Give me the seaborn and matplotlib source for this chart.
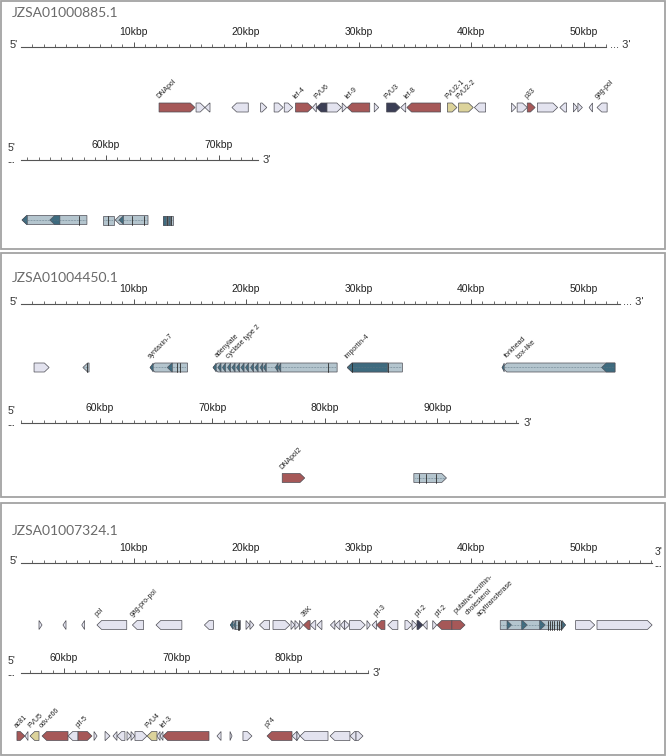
import numpy as np
import seaborn as sns
import matplotlib.pyplot as plt
from matplotlib.patches import Polygon, Rectangle

sns.set_theme(style="white")
plt.rcParams["font.family"] = ["Liberation Sans", "DejaVu Sans"]

W, H = 667, 756
S = 11.25      # pixels per kbp
GH = 9         # gene height (px)
HEAD = 0.42    # arrow head length (kbp)

# ---------------- data ----------------
titles = ["JZSA01000885.1", "JZSA01004450.1", "JZSA01007324.1"]

# ruler rows (kbp start, kbp end) for each contig
rows_885 = [(0, 52.0), (52.44, 73.5)]
rows_4450 = [(0, 53.2), (52.98, 97.2)]
rows_7324 = [(0, 56.1), (56.18, 87.0)]

# simple genes: (start kbp, end kbp, strand, colour, label)
genes_885 = [
    (12.27, 15.47, 1, "red", "DNApol"),
    (15.56, 16.35, 1, "light", ""),
    (16.35, 16.8, -1, "light", ""),
    (18.75, 20.2, -1, "light", ""),
    (21.3, 21.85, 1, "light", ""),
    (22.5, 23.3, 1, "light", ""),
    (23.4, 24.15, 1, "light", ""),
    (24.4, 25.9, 1, "red", "lef-4"),
    (25.9, 26.25, -1, "light", ""),
    (26.25, 27.2, -1, "navy", "FVU6"),
    (27.2, 28.5, 1, "light", ""),
    (28.55, 28.95, 1, "light", ""),
    (29.0, 31.0, -1, "red", "lef-9"),
    (31.4, 31.8, 1, "light", ""),
    (32.5, 33.7, 1, "navy", "FVU3"),
    (33.75, 34.2, -1, "light", ""),
    (34.3, 37.3, -1, "red", "lef-8"),
    (37.9, 38.75, 1, "khaki", "FVU2-1"),
    (38.9, 40.2, 1, "khaki", "FVU2-2"),
    (40.3, 41.3, -1, "light", ""),
    (43.6, 44.0, 1, "light", ""),
    (44.1, 45.0, 1, "light", ""),
    (45.0, 45.7, 1, "red", "p33"),
    (45.9, 47.7, 1, "light", ""),
    (47.9, 48.5, -1, "light", ""),
    (49.1, 49.45, 1, "light", ""),
    (49.5, 49.9, 1, "light", ""),
    (50.5, 50.8, -1, "light", ""),
    (51.2, 52.1, -1, "light", "gag-pol"),
]

# split genes (exon/intron): (start, end, strand, label, dark exons, exon borders)
split_885 = [
    (52.53, 58.3, -1, "", [(52.53, 53.0), (55.0, 55.9)], [57.6]),
    (59.73, 60.7, 0, "", [], [60.2]),
    (60.8, 63.73, -1, "", [(61.15, 61.55)], [62.3, 63.4]),
    (65.06, 65.95, 0, "", [(65.06, 65.3), (65.5, 65.7)], [65.4, 65.8]),
]

genes_4450 = [
    (1.16, 2.5, 1, "light", ""),
    (76.2, 78.2, 1, "red", "DNApol2"),
]

split_4450 = [
    (5.5, 6.05, -1, "", [], [5.85]),
    (11.47, 14.8, -1, "syntaxin-7", [(11.47, 11.75), (13.0, 13.45)], [13.85, 14.1]),
    (17.07, 28.1, -1, "adenylate\ncyclase type 2",
     [(17.07, 17.35), (17.5, 17.78), (17.9, 18.18), (18.35, 18.63), (18.75, 19.03),
      (19.15, 19.43), (19.55, 19.83), (19.95, 20.23), (20.4, 20.68), (20.8, 21.08),
      (21.25, 21.5), (21.55, 21.8), (22.6, 22.85), (22.85, 23.1)], [27.3]),
    (29.0, 33.9, -1, "importin-4", [(29.0, 32.6)], [29.4, 32.6]),
    (42.76, 52.8, -1, "forkhead\nbox-like", [(42.76, 42.95), (51.6, 52.8)], []),
    (87.9, 90.8, 1, "", [], [88.4, 89.0, 89.9]),
]

genes_7324 = [
    (1.6, 1.87, 1, "light", ""),
    (3.73, 4.0, -1, "light", ""),
    (5.4, 5.65, -1, "light", ""),
    (6.75, 9.4, -1, "light", "pol"),
    (9.9, 10.9, -1, "light", "gag-pro-pol"),
    (12.0, 14.3, -1, "light", ""),
    (16.3, 17.1, -1, "light", ""),
    (20.0, 20.35, 1, "light", ""),
    (20.35, 20.7, 1, "light", ""),
    (21.2, 22.1, -1, "light", ""),
    (22.4, 23.9, 1, "light", ""),
    (24.0, 24.35, 1, "light", ""),
    (24.35, 24.75, 1, "light", ""),
    (24.75, 25.1, 1, "light", ""),
    (25.1, 25.7, -1, "red", "38K"),
    (25.7, 26.2, -1, "light", ""),
    (26.3, 26.75, -1, "light", ""),
    (27.5, 27.9, -1, "light", ""),
    (27.9, 28.35, -1, "light", ""),
    (28.4, 28.75, -1, "light", ""),
    (28.75, 29.2, 1, "light", ""),
    (29.2, 30.6, 1, "light", ""),
    (30.75, 31.05, 1, "light", ""),
    (31.2, 31.6, -1, "light", ""),
    (31.6, 32.35, -1, "red", "pif-3"),
    (32.6, 33.5, -1, "light", ""),
    (34.13, 34.76, 1, "light", ""),
    (34.76, 35.2, 1, "light", ""),
    (35.2, 35.73, 1, "navy", "pif-2"),
    (35.73, 36.1, -1, "light", ""),
    (36.6, 36.95, 1, "light", ""),
    (36.98, 38.3, -1, "red", "pif-2"),
    (38.3, 39.47, 1, "red", "putative lecithin-\ncholesterol\nacyltransferase"),
    (49.3, 51.0, 1, "light", ""),
    (51.2, 56.1, 1, "light", ""),
    (55.82, 56.53, 1, "red", "ac81"),
    (56.53, 56.8, -1, "light", ""),
    (56.98, 57.78, -1, "khaki", "FVU5"),
    (58.05, 60.36, -1, "red", "odv-e66"),
    (60.36, 61.25, -1, "light", ""),
    (61.25, 62.49, 1, "red", "pif-5"),
    (62.67, 62.94, 1, "light", ""),
    (63.65, 64.09, 1, "light", ""),
    (64.36, 64.71, -1, "light", ""),
    (64.71, 65.42, -1, "light", ""),
    (65.6, 65.96, 1, "light", ""),
    (65.96, 66.31, 1, "light", ""),
    (66.31, 67.38, 1, "light", ""),
    (67.38, 68.27, -1, "khaki", "FVU4"),
    (68.27, 68.54, -1, "light", ""),
    (68.54, 68.8, -1, "light", ""),
    (68.8, 72.89, -1, "red", "lef-3"),
    (73.6, 73.96, -1, "light", ""),
    (74.76, 74.94, 1, "light", ""),
    (75.91, 76.71, 1, "light", ""),
    (78.05, 80.27, -1, "red", "p74"),
    (80.27, 80.71, -1, "light", ""),
    (80.71, 80.98, 1, "light", ""),
    (80.98, 83.47, -1, "light", ""),
    (83.65, 85.42, -1, "light", ""),
    (85.42, 85.96, -1, "light", ""),
    (85.96, 86.58, 1, "light", ""),
]

split_7324 = [
    (18.6, 19.5, -1, "", [(18.6, 18.85), (18.9, 19.1)], [19.25, 19.4]),
    (42.6, 48.4, 1, "", [(43.2, 43.6), (44.5, 45.0), (46.1, 46.6), (48.1, 48.4)],
     [46.8, 47.0, 47.2, 47.4, 47.6, 47.8, 48.0]),
]

# ---------------- style ----------------
FILL = {"light": "#e3e3ef", "red": "#a65858", "navy": "#3b3e55", "khaki": "#dcd39b"}
STEEL, TEAL, EDGE = "#b4c5ce", "#3e6b7f", "#4d4d55"

# panel layout (px): box top/bottom, title y, per-row (ruler y, gene y), end marks
panels = [
    (titles[0], rows_885, genes_885, split_885, (1, 249), 13,
     [(47, 107.5), (160, 220)], [("5", "dots3"), ("5dots", "3")]),
    (titles[1], rows_4450, genes_4450, split_4450, (253, 497), 277.5,
     [(304, 367.5), (423, 478)], [("5", "dots3"), ("5dots", "3")]),
    (titles[2], rows_7324, genes_7324, split_7324, (503, 755), 531,
     [(563, 625), (673, 736)], [("5", "3dots"), ("5dots", "3")]),
]


def arrow_xy(s, e, strand, y, h, head):
    hd = min(head, e - s)
    top, bot = y - h / 2, y + h / 2
    if strand > 0:
        return [(s, top), (e - hd, top), (e, y), (e - hd, bot), (s, bot)]
    if strand < 0:
        return [(e, top), (s + hd, top), (s, y), (s + hd, bot), (e, bot)]
    return [(s, top), (e, top), (e, bot), (s, bot)]


def gene_label(ax, s, y, label):
    lines = label.split("\n")
    n = len(lines)
    x0 = s + (0.55 if n > 1 else 0.12)
    for k, line in enumerate(lines):
        ax.text(x0 + k * 1.0, y - GH / 2 - 2.5 - (n - 1 - k) * 1.5, line, rotation=45,
                rotation_mode="anchor", ha="left", va="bottom", fontsize=5,
                color="#222222", clip_on=False)


def row_of(rows, end):
    for i, (r0, r1) in enumerate(rows):
        if end <= r1 + 0.3:
            return i
    return len(rows) - 1


fig = plt.figure(figsize=(W / 100, H / 100), dpi=100)
fig.patch.set_facecolor("white")

for title, rows, genes, splits, box, ty, layout, ends in panels:
    y0, y1 = box
    fig.add_artist(Rectangle((1.5 / W, 1 - y1 / H), 663 / W, (y1 - y0) / H,
                             transform=fig.transFigure, fill=False, ec="#a3a3a3", lw=1.3))
    fig.text(12 / W, 1 - ty / H, title, ha="left", va="center", fontsize=10,
             color="#6a6a6a", family=["Lato", "DejaVu Sans"])

    axes = []
    for (r0, r1), (ry, gy), (lstyle, rstyle) in zip(rows, layout, ends):
        bottom = gy + 8
        ax = fig.add_axes([21 / W, 1 - bottom / H, (r1 - r0) * S / W, (bottom - ry) / H])
        ax.set_xlim(r0, r1)
        ax.set_ylim(bottom, ry)
        ax.patch.set_alpha(0)
        sns.despine(ax=ax, top=False, left=True, right=True, bottom=True)
        ax.spines["top"].set_color("#555555")
        ax.spines["top"].set_linewidth(0.8)
        majors = [m for m in range(10, 101, 10) if r0 < m <= r1]
        minors = list(range(int(np.floor(r0)) + 1, int(np.floor(r1)) + 1))
        ax.set_xticks(majors, labels=[f"{m}kbp" for m in majors])
        ax.set_xticks(minors, minor=True)
        ax.set_yticks([])
        ax.xaxis.set_ticks_position("top")
        ax.tick_params(axis="x", which="major", top=True, bottom=False, labeltop=True,
                       labelbottom=False, direction="out", length=3.8, width=0.7,
                       color="#555555", pad=3.2, labelsize=7.5, labelcolor="#222222")
        ax.tick_params(axis="x", which="minor", top=True, bottom=False, direction="out",
                       length=2.0, width=0.6, color="#555555")

        # 5' / 3' end marks
        kw = dict(color="#333333", clip_on=False)
        if lstyle == "5":
            ax.text(r0 - 0.3, ry + 1, "5'", ha="right", va="baseline", fontsize=8, **kw)
        else:
            ax.text(r0 - 0.85, ry - 12, "5'", ha="center", va="center", fontsize=7.5, **kw)
            ax.text(r0 - 0.85, ry + 0.5, "...", ha="center", va="center", fontsize=6.5,
                    fontweight="bold", **kw)
        if rstyle == "dots3":
            ax.text(r1 + 0.35, ry + 1, "... 3'", ha="left", va="baseline", fontsize=8, **kw)
        elif rstyle == "3":
            ax.text(r1 + 0.45, ry, "3'", ha="left", va="center", fontsize=8, **kw)
        else:
            ax.text(r1 + 0.2, ry - 11, "3'", ha="left", va="center", fontsize=7.5, **kw)
            ax.text(r1 + 0.2, ry + 1.5, "...", ha="left", va="center", fontsize=6.5,
                    fontweight="bold", **kw)
        axes.append((ax, gy))

    for s, e, strand, col, label in genes:
        ax, gy = axes[row_of(rows, e)]
        ax.add_patch(Polygon(arrow_xy(s, e, strand, gy, GH, HEAD), closed=True,
                             fc=FILL[col], ec=EDGE, lw=0.5, clip_on=False))
        if label:
            gene_label(ax, s, gy, label)

    for s, e, strand, label, darks, marks in splits:
        ax, gy = axes[row_of(rows, e)]
        ax.add_patch(Polygon(arrow_xy(s, e, strand, gy, GH, HEAD), closed=True,
                             fc=STEEL, ec=EDGE, lw=0.5, clip_on=False))
        ax.plot([s + 0.1, e - 0.1], [gy, gy], ls=(0, (1, 1.2)), color="#5d7583",
                lw=0.5, clip_on=False)
        for ds, de in darks:
            ax.add_patch(Polygon(arrow_xy(ds, de, strand, gy, GH, HEAD), closed=True,
                                 fc=TEAL, ec=EDGE, lw=0.4, clip_on=False))
        for m in marks:
            ax.plot([m, m], [gy - GH / 2, gy + GH / 2], color="#2a2a2a", lw=0.6,
                    clip_on=False)
        if label:
            gene_label(ax, s, gy, label)

fig.savefig("out.png", dpi=100)
